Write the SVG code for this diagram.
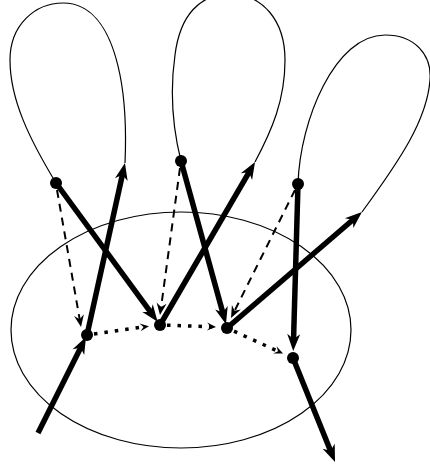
<svg xmlns="http://www.w3.org/2000/svg" width="430" height="465" viewBox="0 0 430 465">
<style>
.thin{fill:none;stroke:#000;stroke-width:1.2}
.thick{fill:none;stroke:#000;stroke-width:5.5;marker-end:url(#big)}
.dash{fill:none;stroke:#000;stroke-width:2;stroke-dasharray:8 6;marker-end:url(#mid)}
.dot{fill:none;stroke:#000;stroke-width:3.5;stroke-dasharray:3.5 7;marker-end:url(#small)}
.pt{fill:#000}
</style>
<defs>
<marker id="big" viewBox="-18 -8 20 16" markerWidth="20" markerHeight="16" refX="-10" refY="0" orient="auto" markerUnits="userSpaceOnUse">
<path d="M0,0 L-17,-6.5 L-12,0 L-17,6.5 Z" fill="#000"/>
</marker>
<marker id="mid" viewBox="-14 -7 16 14" markerWidth="16" markerHeight="14" refX="-6" refY="0" orient="auto" markerUnits="userSpaceOnUse">
<path d="M0,0 L-12,-5 L-8,0 L-12,5 Z" fill="#000"/>
</marker>
<marker id="small" viewBox="-10 -5 12 10" markerWidth="12" markerHeight="10" refX="-4" refY="0" orient="auto" markerUnits="userSpaceOnUse">
<path d="M0,0 L-9,-4 L-5.5,0 L-9,4 Z" fill="#000"/>
</marker>
</defs>
<g id="ellipse"><ellipse class="thin" cx="181" cy="330" rx="170" ry="118"/></g>
<g id="loop1"><path class="thin" d="M56,183 C30,140 10,100 10,60 C10,25 35,3 63,3 C95,3 112,35 120,75 C126,105 126,140 125,163"/></g>
<g id="loop2"><path class="thin" d="M181,161 C172,125 170,90 175,55 C180,15 200,-6 230,-6 C262,-6 285,20 285,60 C285,100 272,130 255,162"/></g>
<g id="loop3"><path class="thin" d="M298,184 C300,120 335,35 385,35 C415,35 432,55 430,80 C427,120 400,160 362,212"/></g>
<g id="connectors">
<path class="thick" d="M38,433 L81.5,345.9"/>
<path class="thick" d="M87,335 L122.8,172.8"/>
<path class="thick" d="M56,183 L151.7,313.7"/>
<path class="thick" d="M160,325 L250,170.6"/>
<path class="thick" d="M181,161 L223.3,314.5"/>
<path class="thick" d="M227,328 L354.4,218.5"/>
<path class="thick" d="M298,184 L293.5,341"/>
<path class="thick" d="M293,358 L331.3,452.7"/>
<path class="dash" d="M57,190 L80,321.1"/>
<path class="dash" d="M180,168 L160.8,309.1"/>
<path class="dash" d="M295,190 L233.7,312.6"/>
<path class="dot" d="M94,334 L145,326.7"/>
<path class="dot" d="M167,325.2 L212,326.8"/>
<path class="dot" d="M234,331.2 L279.4,351.9"/>
</g>
<g id="P1"><circle class="pt" cx="56" cy="183" r="6"/></g>
<g id="P2"><circle class="pt" cx="181" cy="161" r="6"/></g>
<g id="P3"><circle class="pt" cx="298" cy="184" r="6"/></g>
<g id="A"><circle class="pt" cx="87" cy="335" r="6"/></g>
<g id="B"><circle class="pt" cx="160" cy="325" r="6"/></g>
<g id="C"><circle class="pt" cx="227" cy="328" r="6"/></g>
<g id="D"><circle class="pt" cx="293" cy="358" r="6"/></g>
</svg>
